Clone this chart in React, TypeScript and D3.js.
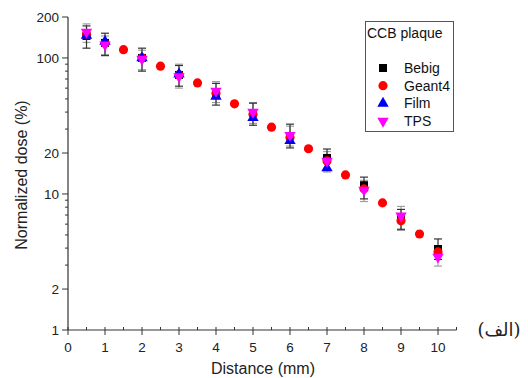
import React from "react";
import * as d3 from "d3";

const geantX = [0.5, 1, 1.5, 2, 2.5, 3, 3.5, 4, 4.5, 5, 5.5, 6, 6.5, 7, 7.5, 8, 8.5, 9, 9.5, 10];
const geantY = [148, 128, 115, 100, 87, 75, 65.5, 55, 46, 38.5, 31, 26, 21.5, 17.5, 13.8, 10.9, 8.6, 6.35, 5.08, 3.75];

const bebigX = [0.5, 1, 2, 3, 4, 5, 6, 7, 8, 9, 10];
const bebigY = [145, 129, 100, 75, 55, 39.4, 26.7, 18.4, 11.6, 6.6, 3.94];
const bebigHi = [172, 152, 118, 88, 65, 46.5, 32.6, 21.4, 13.3, 7.7, 4.67];
const bebigLo = [118, 104, 80, 62, 45, 32, 21.8, 15, 9.2, 5.5, 3.3];

const filmX = [0.5, 1, 2, 3, 4, 5, 6, 7];
const filmY = [146, 132, 100, 76, 52, 36.3, 24.6, 15.5];

const tpsX = [0.5, 1, 2, 3, 4, 5, 6, 7, 8, 9, 10];
const tpsY = [155, 125, 98, 73, 57, 40, 27, 17.5, 10.7, 6.9, 3.44];
const tpsHi = [178, 145, 114, 90, 67, 47, 31.5, 20.5, 12.6, 8.1, 4.0];
const tpsLo = [130, 106, 82, 60, 47, 33, 22.5, 14.5, 8.8, 5.4, 2.95];

const xTicks = [0, 1, 2, 3, 4, 5, 6, 7, 8, 9, 10];
const xMinor = [0.5, 1.5, 2.5, 3.5, 4.5, 5.5, 6.5, 7.5, 8.5, 9.5, 10.5];
const yTicks = [1, 2, 10, 20, 100, 200];
const yMinor = [3, 4, 5, 6, 7, 8, 9, 30, 40, 50, 60, 70, 80, 90];

const legendNames = ["Bebig", "Geant4", "Film", "TPS"];

const FONT = "'Liberation Sans', Arial, sans-serif";

export default function App() {
  const x = d3.scaleLinear().domain([0, 10.5]).range([68, 456.5]);
  const y = d3.scaleLog().domain([1, 200]).range([330, 17]);

  const sq = d3.symbol().type(d3.symbolSquare).size(64)() as string;
  const circ = d3.symbol().type(d3.symbolCircle).size(66)() as string;
  const tri = d3.symbol().type(d3.symbolTriangle).size(56)() as string;

  const symFor = (i: number) => {
    if (i === 0) return <path d={sq} fill="#000" />;
    if (i === 1) return <path d={circ} fill="#f00" />;
    if (i === 2) return <path d={tri} fill="#0000ee" />;
    return <path d={tri} fill="#f0f" transform="rotate(180)" />;
  };

  const errBar = (cx: number, hi: number, lo: number, color: string, key: string) => (
    <g key={key} stroke={color} strokeWidth={1.2}>
      <line x1={cx} x2={cx} y1={y(hi)} y2={y(lo)} />
      <line x1={cx - 4} x2={cx + 4} y1={y(hi)} y2={y(hi)} />
      <line x1={cx - 4} x2={cx + 4} y1={y(lo)} y2={y(lo)} />
    </g>
  );

  return (
    <svg width={528} height={378} style={{ position: "absolute", left: 0, top: 0, background: "#fff" }}>
      <rect width={528} height={378} fill="#fff" />
      {/* axes */}
      <line x1={68} x2={68} y1={y(200)} y2={330} stroke="#333" strokeWidth={1.2} />
      <line x1={68} x2={456.5} y1={330} y2={330} stroke="#333" strokeWidth={1.2} />
      {xTicks.map((t) => (
        <g key={"xt" + t}>
          <line x1={x(t)} x2={x(t)} y1={327} y2={335} stroke="#333" />
          <text x={x(t)} y={352} fontSize={13.5} fontFamily={FONT} textAnchor="middle" fill="#222">{t}</text>
        </g>
      ))}
      {xMinor.map((t) => (
        <line key={"xm" + t} x1={x(t)} x2={x(t)} y1={327} y2={330} stroke="#333" />
      ))}
      {yTicks.map((t) => (
        <g key={"yt" + t}>
          <line x1={62} x2={68} y1={y(t)} y2={y(t)} stroke="#333" />
          <text x={59} y={y(t) + 5} fontSize={13.5} fontFamily={FONT} textAnchor="end" fill="#222">{t}</text>
        </g>
      ))}
      {yMinor.map((t) => (
        <line key={"ym" + t} x1={65} x2={68} y1={y(t)} y2={y(t)} stroke="#333" />
      ))}
      <text x={263} y={374} fontSize={16} fontFamily={FONT} textAnchor="middle" fill="#222">Distance (mm)</text>
      <text transform="translate(27,175) rotate(-90)" fontSize={16} fontFamily={FONT} textAnchor="middle" fill="#222">Normalized dose (%)</text>
      <text x={499} y={336} fontSize={18} fontFamily="'DejaVu Serif', 'DejaVu Sans', serif" textAnchor="middle" fill="#222">(الف)</text>

      {/* error bars */}
      {tpsX.map((v, i) => errBar(x(v), tpsHi[i], tpsLo[i], "#a0a0a0", "te" + i))}
      {bebigX.map((v, i) => errBar(x(v), bebigHi[i], bebigLo[i], "#333", "be" + i))}

      {/* markers */}
      {bebigX.map((v, i) => (
        <g key={"b" + i} transform={`translate(${x(v)},${y(bebigY[i])})`}>{symFor(0)}</g>
      ))}
      {geantX.map((v, i) => (
        <g key={"g" + i} transform={`translate(${x(v)},${y(geantY[i])})`}>{symFor(1)}</g>
      ))}
      {filmX.map((v, i) => (
        <g key={"f" + i} transform={`translate(${x(v)},${y(filmY[i])})`}>{symFor(2)}</g>
      ))}
      {tpsX.map((v, i) => (
        <g key={"t" + i} transform={`translate(${x(v)},${y(tpsY[i])})`}>{symFor(3)}</g>
      ))}

      {/* legend */}
      <rect x={365.5} y={21.5} width={88} height={110} fill="#fff" stroke="#555" strokeWidth={1} />
      <text x={367} y={38} fontSize={14} fontFamily={FONT} fill="#111">CCB plaque</text>
      {legendNames.map((n, i) => (
        <g key={"l" + n} transform={`translate(0,${68 + i * 17.7})`}>
          <g transform="translate(383,0)">{symFor(i)}</g>
          <text x={404} y={5} fontSize={14} fontFamily={FONT} fill="#111">{n}</text>
        </g>
      ))}
    </svg>
  );
}
